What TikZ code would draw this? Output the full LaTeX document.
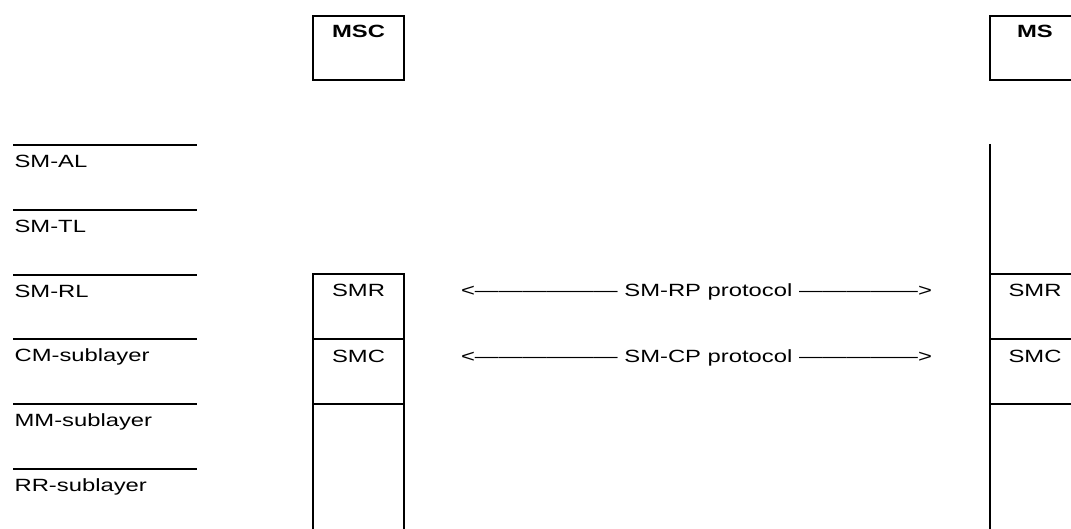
\documentclass[tikz,border=0pt]{standalone}
\usepackage{fontspec}
\setmainfont[FakeStretch=1.345]{Liberation Sans}
\begin{document}
\begin{tikzpicture}[x=1pt,y=-1pt,line width=1.2pt,
  txt/.style={inner sep=0pt,font=\fontsize{17.7}{20}\selectfont},
  lbl/.style={txt,anchor=base west},
  ctr/.style={txt,anchor=base},
  hdr/.style={txt,anchor=base,font=\fontsize{17.7}{20}\selectfont\bfseries},
  rule/.style={line width=1.2pt}]
\useasboundingbox (0,0) rectangle (1071,529);
\clip (0,0) rectangle (1071,529);
% header boxes
\draw[rule] (313,16) rectangle (404,80);
\node[hdr] (msc) at (358.5,37.5) {MSC};
\draw[rule] (990,16) rectangle (1080,80);
\node[hdr] (ms) at (1035,37.5) {MS};
% layer rules and names
\foreach \yy/\nm/\tx in {145/al/SM-AL,210/tl/SM-TL,275/rl/SM-RL,339/cm/CM-sublayer,404/mm/MM-sublayer,469/rr/RR-sublayer}{
  \draw[rule] (13,\yy) -- (197,\yy);
  \node[lbl] (\nm) at (14,\yy+22.7) {\tx};
}
% MSC column
\draw[rule] (313,274) -- (313,535);
\draw[rule] (404,274) -- (404,535);
\foreach \yy in {274,339,404}{\draw[rule] (312.4,\yy) -- (404.6,\yy);}
\node[ctr] (smr1) at (358.5,297) {SMR};
\node[ctr] (smc1) at (358.5,362) {SMC};
% MS column
\draw[rule] (990,144) -- (990,535);
\foreach \yy in {274,339,404}{\draw[rule] (989.4,\yy) -- (1080,\yy);}
\node[ctr] (smr2) at (1035,297) {SMR};
\node[ctr] (smc2) at (1035,362) {SMC};
% protocol arrows (typed)
\node[ctr] (rp) at (696.5,297) {<——————\ SM-RP protocol\ —————>};
\node[ctr] (cp) at (696.5,362) {<——————\ SM-CP protocol\ —————>};
\end{tikzpicture}
\end{document}
